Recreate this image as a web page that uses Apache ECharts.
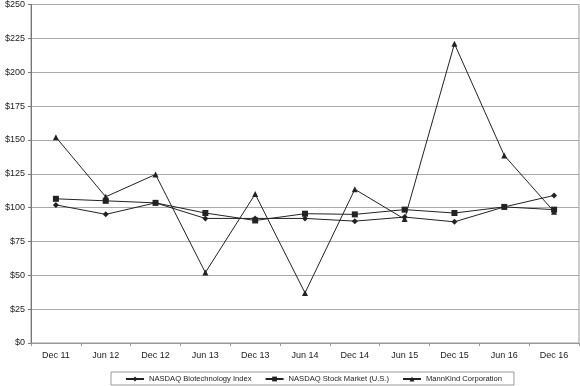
<!DOCTYPE html>
<html>
<head>
<meta charset="utf-8">
<script src="https://cdn.jsdelivr.net/npm/echarts@6/dist/echarts.min.js"></script>
<style>html,body{margin:0;padding:0;background:#fff}#c{width:580px;height:386px}</style>
</head>
<body>
<div id="c"></div>
<script>
var categories = ['Dec 11','Jun 12','Dec 12','Jun 13','Dec 13','Jun 14','Dec 14','Jun 15','Dec 15','Jun 16','Dec 16'];
var biotech = [102, 95, 103.5, 92, 92, 92, 90, 93, 89.5, 100.5, 109];
var nasdaq = [106.5, 105, 103.5, 96, 90.5, 95.5, 95, 98.5, 96, 100.5, 98.5];
var mannkind = [152, 108, 124.5, 52, 110, 37, 113.5, 91.5, 221, 138.5, 97];
var yTicks = [0, 25, 50, 75, 100, 125, 150, 175, 200, 225, 250];

var chart = echarts.init(document.getElementById('c'));
var font = 'Liberation Sans, Arial, sans-serif';
function ser(name, data, symbol, size) {
  return {
    name: name, type: 'line', data: data, symbol: symbol, symbolSize: size,
    showAllSymbol: true,
    lineStyle: {color: '#222', width: 1}, itemStyle: {color: '#222'},
    emphasis: {disabled: true}, animation: false
  };
}
chart.setOption({
  animation: false,
  grid: {left: 31, right: 1, top: 4, bottom: 43, show: true, borderColor: '#999', borderWidth: 1},
  xAxis: {
    type: 'category', data: categories, boundaryGap: true,
    axisLine: {lineStyle: {color: '#999'}},
    axisTick: {show: true, length: 3, lineStyle: {color: '#999'}},
    axisLabel: {color: '#222', fontFamily: font, fontSize: 9, margin: 8}
  },
  yAxis: {
    type: 'value', min: yTicks[0], max: yTicks[yTicks.length - 1], interval: 25,
    axisLine: {show: true, lineStyle: {color: '#777'}},
    axisTick: {show: true, length: 3, lineStyle: {color: '#777'}},
    splitLine: {lineStyle: {color: '#aaa'}},
    axisLabel: {color: '#222', fontFamily: font, fontSize: 9, margin: 6,
      formatter: function (v) { return '$' + v; }}
  },
  legend: {
    bottom: 1, left: 111, itemWidth: 18, itemHeight: 6, itemGap: 13,
    borderColor: '#999', borderWidth: 1, padding: [3, 12, 2, 14],
    textStyle: {color: '#222', fontFamily: font, fontSize: 7.6},
    data: ['NASDAQ Biotechnology Index', 'NASDAQ Stock Market (U.S.)', 'MannKind Corporation']
  },
  series: [
    ser('NASDAQ Biotechnology Index', biotech, 'diamond', 6),
    ser('NASDAQ Stock Market (U.S.)', nasdaq, 'rect', 6),
    ser('MannKind Corporation', mannkind, 'triangle', 6)
  ]
});
</script>
</body>
</html>
